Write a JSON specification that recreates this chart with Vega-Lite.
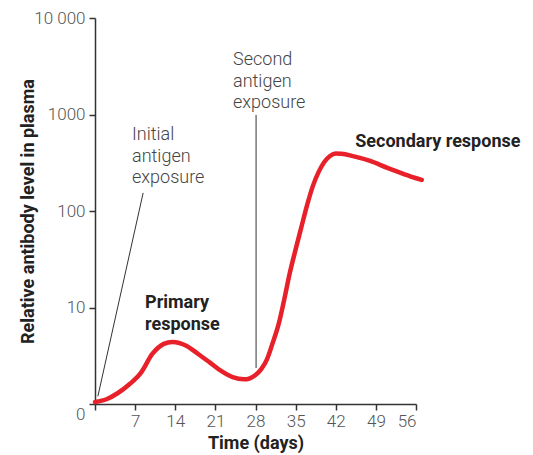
{
  "$schema": "https://vega.github.io/schema/vega-lite/v6.json",
  "width": 321,
  "height": 386,
  "autosize": {"type": "none"},
  "padding": {"left": 95, "top": 18, "right": 117, "bottom": 51},
  "config": {"view": {"stroke": null}, "font": "Roboto"},
  "datasets": {
    "curve": [
      {"day": 0, "level": 1.05}, {"day": 2, "level": 1.12}, {"day": 4, "level": 1.3},
      {"day": 6, "level": 1.6}, {"day": 8, "level": 2.1}, {"day": 10, "level": 3.3},
      {"day": 12, "level": 4.2}, {"day": 13.5, "level": 4.4}, {"day": 16, "level": 4.0},
      {"day": 18, "level": 3.3}, {"day": 20, "level": 2.7}, {"day": 22, "level": 2.2},
      {"day": 24, "level": 1.9}, {"day": 26, "level": 1.8}, {"day": 28, "level": 2.0},
      {"day": 29, "level": 2.3}, {"day": 30, "level": 2.9}, {"day": 31, "level": 4.3},
      {"day": 32, "level": 6.6}, {"day": 33, "level": 12}, {"day": 34, "level": 23},
      {"day": 35, "level": 40}, {"day": 36, "level": 68}, {"day": 37, "level": 115},
      {"day": 38, "level": 181}, {"day": 39, "level": 253}, {"day": 40, "level": 322},
      {"day": 41, "level": 372}, {"day": 42, "level": 394}, {"day": 43, "level": 392},
      {"day": 45, "level": 370}, {"day": 48, "level": 330}, {"day": 51, "level": 280},
      {"day": 54, "level": 240}, {"day": 57, "level": 210}
    ],
    "pointers": [
      {"x1": 0.5, "y1": 1.2, "x2": 8.4, "y2": 154},
      {"x1": 28.1, "y1": 2.36, "x2": 28.1, "y2": 990}
    ],
    "notes": [
      {"x": 6.46, "y": 614, "text": "Initial"},
      {"x": 6.46, "y": 363, "text": "antigen"},
      {"x": 6.46, "y": 220, "text": "exposure"},
      {"x": 24.08, "y": 3672, "text": "Second"},
      {"x": 24.08, "y": 2172, "text": "antigen"},
      {"x": 24.08, "y": 1316, "text": "exposure"}
    ],
    "labels": [
      {"x": 8.73, "y": 11.1, "text": "Primary"},
      {"x": 8.73, "y": 6.59, "text": "response"},
      {"x": 45.4, "y": 519, "text": "Secondary response"}
    ]
  },
  "layer": [
    {
      "data": {"name": "curve"},
      "mark": {"type": "line", "color": "#e8202a", "strokeWidth": 4.5, "interpolate": "monotone", "strokeCap": "round"},
      "encoding": {
        "x": {
          "field": "day", "type": "quantitative",
          "scale": {"domain": [0, 56], "nice": false},
          "axis": {
            "title": "Time (days)", "values": [0, 7, 14, 21, 28, 35, 42, 49, 56],
            "labelExpr": "datum.value == 0 ? '' : datum.label",
            "grid": false, "domainColor": "#333", "domainWidth": 1.5, "tickColor": "#333", "tickWidth": 1.5, "tickSize": 6,
            "labelFont": "Roboto", "labelFontWeight": 300, "labelFontSize": 17, "labelColor": "#555", "labelPadding": 3,
            "titleFont": "Roboto", "titleFontWeight": "bold", "titleFontSize": 18, "titleColor": "#222", "titlePadding": 5
          }
        },
        "y": {
          "field": "level", "type": "quantitative",
          "scale": {"type": "log", "domain": [1, 10000], "nice": false},
          "axis": {
            "title": "Relative antibody level in plasma", "values": [1, 10, 100, 1000, 10000],
            "labelExpr": "datum.value == 1 ? '0' : datum.value == 10000 ? '10 000' : format(datum.value, 'd')",
            "labelOffset": {"condition": {"test": "datum.value == 1", "value": 10}, "value": 0},
            "grid": false, "domainColor": "#333", "domainWidth": 1.5, "tickColor": "#333", "tickWidth": 1.5, "tickSize": 6,
            "labelFont": "Roboto", "labelFontWeight": 300, "labelFontSize": 17, "labelColor": "#555", "labelPadding": 4,
            "titleFont": "Roboto", "titleFontWeight": "bold", "titleFontSize": 18, "titleColor": "#222", "titleX": -58
          }
        }
      }
    },
    {
      "data": {"name": "pointers"},
      "mark": {"type": "rule", "color": "#333", "strokeWidth": 1},
      "encoding": {
        "x": {"field": "x1", "type": "quantitative"},
        "y": {"field": "y1", "type": "quantitative"},
        "x2": {"field": "x2"},
        "y2": {"field": "y2"}
      }
    },
    {
      "data": {"name": "notes"},
      "mark": {"type": "text", "align": "left", "baseline": "middle", "font": "Roboto", "fontWeight": 300, "fontSize": 18, "color": "#444"},
      "encoding": {
        "x": {"field": "x", "type": "quantitative"},
        "y": {"field": "y", "type": "quantitative"},
        "text": {"field": "text"}
      }
    },
    {
      "data": {"name": "labels"},
      "mark": {"type": "text", "align": "left", "baseline": "middle", "font": "Roboto", "fontWeight": "bold", "fontSize": 18, "color": "#222"},
      "encoding": {
        "x": {"field": "x", "type": "quantitative"},
        "y": {"field": "y", "type": "quantitative"},
        "text": {"field": "text"}
      }
    }
  ]
}
